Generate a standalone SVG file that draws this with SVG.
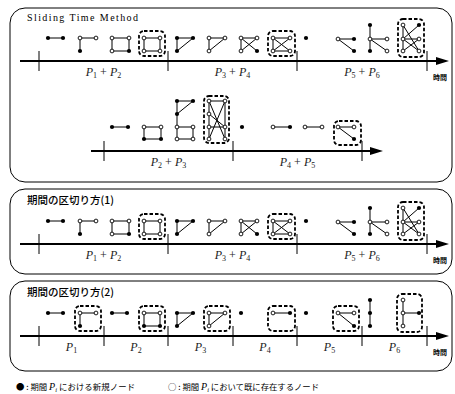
<svg xmlns="http://www.w3.org/2000/svg" xmlns:xlink="http://www.w3.org/1999/xlink" width="455" height="394" viewBox="0 0 455 394">
<style>
.frame{fill:none;stroke:#000;stroke-width:1}
.axis{stroke:#000;stroke-width:2.2}
.tick{stroke:#000;stroke-width:1}
.e{stroke:#000;stroke-width:1;fill:none}
.o{fill:#fff;stroke:#000;stroke-width:0.9}
.f{fill:#000}
.box{fill:none;stroke:#000;stroke-width:1.8;stroke-dasharray:3.5 2}
.ttl{font-family:"Liberation Serif",serif;font-size:10px}
.jt{font-family:"Noto Sans CJK JP","Noto Sans CJK SC",sans-serif;font-size:10.5px;font-weight:500}
.lab{font-family:"Liberation Serif",serif;font-size:12px;fill:#222}
.jk{font-family:"Noto Sans CJK JP",sans-serif;font-size:7px;font-weight:bold}
.leg{font-family:"Noto Sans CJK JP","Liberation Sans",sans-serif;font-size:8.4px}
</style>
<defs>
<g id="toprow">
 <g id="g1"><line class="e" x1="48" y1="38" x2="63" y2="38"/><circle class="f" cx="48" cy="38" r="2.1"/><circle class="f" cx="63" cy="38" r="2.1"/></g>
 <g id="g2"><path class="e" d="M96 38H80V51"/><circle class="o" cx="80" cy="38" r="1.9"/><circle class="o" cx="96" cy="38" r="1.9"/><circle class="f" cx="80" cy="51" r="2.1"/></g>
 <g id="g3"><rect class="e" x="112" y="38" width="17" height="13"/><circle class="o" cx="112" cy="38" r="1.9"/><circle class="o" cx="129" cy="38" r="1.9"/><circle class="o" cx="112" cy="51" r="1.9"/><circle class="f" cx="129" cy="51" r="2.1"/></g>
 <g id="g4"><rect class="box" x="139" y="31" width="26" height="25" rx="5"/><rect class="e" x="144" y="38" width="16" height="13"/><circle class="o" cx="144" cy="38" r="1.9"/><circle class="o" cx="160" cy="38" r="1.9"/><circle class="o" cx="144" cy="51" r="1.9"/><circle class="o" cx="160" cy="51" r="1.9"/></g>
 <g id="g5"><path class="e" d="M177 51V38H193L177 51"/><circle class="f" cx="177" cy="38" r="2.1"/><circle class="f" cx="193" cy="38" r="2.1"/><circle class="f" cx="177" cy="51" r="2.1"/></g>
 <g id="g6"><path class="e" d="M209 51V38H225L209 51"/><circle class="o" cx="209" cy="38" r="1.9"/><circle class="o" cx="225" cy="38" r="1.9"/><circle class="o" cx="209" cy="51" r="1.9"/></g>
 <g id="g7"><path class="e" d="M257 38H241V51M241 38L257 51M257 38L241 51"/><circle class="o" cx="241" cy="38" r="1.9"/><circle class="o" cx="257" cy="38" r="1.9"/><circle class="o" cx="241" cy="51" r="1.9"/><circle class="f" cx="257" cy="51" r="2.1"/></g>
 <g id="g8"><rect class="box" x="268" y="31" width="27" height="25" rx="5"/><path class="e" d="M290 38H273V51H290M273 38L290 51M290 38L273 51"/><circle class="o" cx="273" cy="38" r="1.9"/><circle class="o" cx="290" cy="38" r="1.9"/><circle class="o" cx="273" cy="51" r="1.9"/><circle class="o" cx="290" cy="51" r="1.9"/></g>
 <g id="g9"><circle class="f" cx="306" cy="38" r="2.1"/></g>
 <g id="g10"><path class="e" d="M354 39H338L354 51"/><circle class="o" cx="338" cy="39" r="1.9"/><circle class="f" cx="354" cy="39" r="2.1"/><circle class="f" cx="354" cy="51" r="2.1"/></g>
 <g id="g11"><path class="e" d="M370 25V51M370 39H387M370 39L387 51"/><circle class="f" cx="370" cy="25" r="2.1"/><circle class="o" cx="370" cy="39" r="1.9"/><circle class="f" cx="370" cy="51" r="2.1"/><circle class="o" cx="387" cy="39" r="1.9"/><circle class="o" cx="387" cy="51" r="1.9"/></g>
 <g id="g12"><rect class="box" x="398" y="19" width="26" height="38" rx="5"/><path class="e" d="M403 25V51M403 25L419 51M419 25L403 39H419L403 51M403 39L419 51"/><circle class="o" cx="403" cy="25" r="1.9"/><circle class="f" cx="419" cy="25" r="2.1"/><circle class="o" cx="403" cy="39" r="1.9"/><circle class="o" cx="419" cy="39" r="1.9"/><circle class="o" cx="403" cy="51" r="1.9"/><circle class="o" cx="419" cy="51" r="1.9"/></g>
</g>
<g id="topaxis">
 <line class="axis" x1="20" y1="61" x2="440" y2="61"/>
 <polygon points="436,57 449,61 436,65"/>
 <g class="tick"><line x1="39" y1="51" x2="39" y2="71"/><line x1="168" y1="51" x2="168" y2="71"/><line x1="297" y1="51" x2="297" y2="71"/><line x1="427" y1="51" x2="427" y2="71"/></g>
 <text class="lab" x="103.5" y="76" text-anchor="middle"><tspan font-style="italic">P</tspan><tspan font-size="8" dy="2">1</tspan><tspan dy="-2"> + </tspan><tspan font-style="italic">P</tspan><tspan font-size="8" dy="2">2</tspan></text>
 <text class="lab" x="232.5" y="76" text-anchor="middle"><tspan font-style="italic">P</tspan><tspan font-size="8" dy="2">3</tspan><tspan dy="-2"> + </tspan><tspan font-style="italic">P</tspan><tspan font-size="8" dy="2">4</tspan></text>
 <text class="lab" x="362" y="76" text-anchor="middle"><tspan font-style="italic">P</tspan><tspan font-size="8" dy="2">5</tspan><tspan dy="-2"> + </tspan><tspan font-style="italic">P</tspan><tspan font-size="8" dy="2">6</tspan></text>
 <text class="jk" x="440" y="80" text-anchor="middle">時間</text>
</g>
</defs>

<g id="panel1">
 <rect class="frame" x="10" y="8" width="442" height="174" rx="15"/>
 <text class="ttl" x="27" y="21" textLength="111" lengthAdjust="spacing">Sliding Time Method</text>
 <use xlink:href="#topaxis"/>
 <use xlink:href="#toprow"/>
 <g id="axis1b">
  <line class="axis" x1="91" y1="151" x2="374" y2="151"/>
  <polygon points="370,147 383,151 370,155"/>
  <g class="tick"><line x1="104" y1="141" x2="104" y2="161"/><line x1="233" y1="141" x2="233" y2="161"/><line x1="362" y1="141" x2="362" y2="161"/></g>
  <text class="lab" x="168.5" y="166" text-anchor="middle"><tspan font-style="italic">P</tspan><tspan font-size="8" dy="2">2</tspan><tspan dy="-2"> + </tspan><tspan font-style="italic">P</tspan><tspan font-size="8" dy="2">3</tspan></text>
  <text class="lab" x="297.5" y="166" text-anchor="middle"><tspan font-style="italic">P</tspan><tspan font-size="8" dy="2">4</tspan><tspan dy="-2"> + </tspan><tspan font-style="italic">P</tspan><tspan font-size="8" dy="2">5</tspan></text>
 </g>
 <g id="h1"><line class="e" x1="112" y1="127" x2="128" y2="127"/><circle class="f" cx="112" cy="127" r="2.1"/><circle class="f" cx="128" cy="127" r="2.1"/></g>
 <g id="h2"><rect class="e" x="144" y="127" width="17" height="12"/><circle class="o" cx="144" cy="127" r="1.9"/><circle class="o" cx="161" cy="127" r="1.9"/><circle class="f" cx="144" cy="139" r="2.1"/><circle class="f" cx="161" cy="139" r="2.1"/></g>
 <g id="h3"><path class="e" d="M177 139V101H193L177 114M177 127H193V139H177"/><circle class="f" cx="177" cy="101" r="2.1"/><circle class="f" cx="193" cy="101" r="2.1"/><circle class="f" cx="177" cy="114" r="2.1"/><circle class="o" cx="177" cy="127" r="1.9"/><circle class="o" cx="193" cy="127" r="1.9"/><circle class="o" cx="177" cy="139" r="1.9"/><circle class="o" cx="193" cy="139" r="1.9"/></g>
 <g id="h4"><rect class="box" x="204" y="96" width="25" height="47" rx="5"/><path class="e" d="M209 139V101H225V139M209 101L225 139M225 101L209 139M209 114L225 127M209 127H225"/><circle class="o" cx="209" cy="101" r="1.9"/><circle class="o" cx="225" cy="101" r="1.9"/><circle class="o" cx="209" cy="114" r="1.9"/><circle class="o" cx="209" cy="127" r="1.9"/><circle class="o" cx="225" cy="127" r="1.9"/><circle class="o" cx="209" cy="139" r="1.9"/><circle class="o" cx="225" cy="139" r="1.9"/></g>
 <g id="h5"><circle class="f" cx="242" cy="127" r="2.1"/></g>
 <g id="h6"><line class="e" x1="273" y1="127" x2="290" y2="127"/><circle class="o" cx="273" cy="127" r="1.9"/><circle class="f" cx="290" cy="127" r="2.1"/></g>
 <g id="h7"><line class="e" x1="305" y1="127" x2="322" y2="127"/><circle class="o" cx="305" cy="127" r="1.9"/><circle class="o" cx="322" cy="127" r="1.9"/></g>
 <g id="h8"><rect class="box" x="334" y="121" width="27" height="24" rx="5"/><path class="e" d="M354 127H338L354 139"/><circle class="o" cx="338" cy="127" r="1.9"/><circle class="o" cx="354" cy="127" r="1.9"/><circle class="f" cx="354" cy="139" r="2.1"/></g>
</g>

<g id="panel2">
 <rect class="frame" x="10" y="189" width="442" height="85" rx="15"/>
 <text class="jt" x="27" y="204">期間の区切り方(1)</text>
 <use xlink:href="#topaxis" transform="translate(0,183)"/>
 <use xlink:href="#toprow" transform="translate(0,183)"/>
</g>

<g id="panel3">
 <rect class="frame" x="10" y="281" width="442" height="90" rx="15"/>
 <text class="jt" x="27" y="296">期間の区切り方(2)</text>
 <g id="axis3">
  <line class="axis" x1="20" y1="336" x2="440" y2="336"/>
  <polygon points="436,332 449,336 436,340"/>
  <g class="tick"><line x1="39" y1="326" x2="39" y2="346"/><line x1="104" y1="326" x2="104" y2="346"/><line x1="168" y1="326" x2="168" y2="346"/><line x1="233" y1="326" x2="233" y2="346"/><line x1="297" y1="326" x2="297" y2="346"/><line x1="362" y1="326" x2="362" y2="346"/><line x1="427" y1="326" x2="427" y2="346"/></g>
  <g class="lab" text-anchor="middle">
   <text x="71.5" y="351"><tspan font-style="italic">P</tspan><tspan font-size="8" dy="2">1</tspan></text>
   <text x="136" y="351"><tspan font-style="italic">P</tspan><tspan font-size="8" dy="2">2</tspan></text>
   <text x="200.5" y="351"><tspan font-style="italic">P</tspan><tspan font-size="8" dy="2">3</tspan></text>
   <text x="265" y="351"><tspan font-style="italic">P</tspan><tspan font-size="8" dy="2">4</tspan></text>
   <text x="329.5" y="351"><tspan font-style="italic">P</tspan><tspan font-size="8" dy="2">5</tspan></text>
   <text x="394.5" y="351"><tspan font-style="italic">P</tspan><tspan font-size="8" dy="2">6</tspan></text>
  </g>
  <text class="jk" x="440" y="355" text-anchor="middle">時間</text>
 </g>
 <g id="k1"><line class="e" x1="48" y1="313" x2="63" y2="313"/><circle class="f" cx="48" cy="313" r="2.1"/><circle class="f" cx="63" cy="313" r="2.1"/></g>
 <g id="k2"><rect class="box" x="75" y="306" width="26" height="25" rx="5"/><path class="e" d="M96 313H80V326"/><circle class="o" cx="80" cy="313" r="1.9"/><circle class="o" cx="96" cy="313" r="1.9"/><circle class="f" cx="80" cy="326" r="2.1"/></g>
 <g id="k3"><line class="e" x1="112" y1="313" x2="127" y2="313"/><circle class="f" cx="112" cy="313" r="2.1"/><circle class="f" cx="127" cy="313" r="2.1"/></g>
 <g id="k4"><rect class="box" x="139" y="306" width="26" height="25" rx="5"/><rect class="e" x="144" y="313" width="16" height="13"/><circle class="o" cx="144" cy="313" r="1.9"/><circle class="o" cx="160" cy="313" r="1.9"/><circle class="f" cx="144" cy="326" r="2.1"/><circle class="f" cx="160" cy="326" r="2.1"/></g>
 <g id="k5"><path class="e" d="M177 326V313H193L177 326"/><circle class="f" cx="177" cy="313" r="2.1"/><circle class="f" cx="193" cy="313" r="2.1"/><circle class="f" cx="177" cy="326" r="2.1"/></g>
 <g id="k6"><rect class="box" x="204" y="306" width="26" height="25" rx="5"/><path class="e" d="M209 326V313H225L209 326"/><circle class="o" cx="209" cy="313" r="1.9"/><circle class="o" cx="225" cy="313" r="1.9"/><circle class="o" cx="209" cy="326" r="1.9"/></g>
 <g id="k7"><circle class="f" cx="241" cy="313" r="2.1"/></g>
 <g id="k8"><rect class="box" x="268" y="306" width="27" height="25" rx="5"/><line class="e" x1="273" y1="313" x2="290" y2="313"/><circle class="o" cx="273" cy="313" r="1.9"/><circle class="f" cx="290" cy="313" r="2.1"/></g>
 <g id="k9"><circle class="f" cx="306" cy="313" r="2.1"/></g>
 <g id="k10"><rect class="box" x="333" y="306" width="26" height="25" rx="5"/><path class="e" d="M354 313H338L354 326"/><circle class="o" cx="338" cy="313" r="1.9"/><circle class="o" cx="354" cy="313" r="1.9"/><circle class="f" cx="354" cy="326" r="2.1"/></g>
 <g id="k11"><line class="e" x1="370" y1="300" x2="370" y2="326"/><circle class="f" cx="370" cy="300" r="2.1"/><circle class="f" cx="370" cy="313" r="2.1"/><circle class="f" cx="370" cy="326" r="2.1"/></g>
 <g id="k12"><rect class="box" x="397" y="294" width="25" height="38" rx="5"/><path class="e" d="M403 300V326M403 313H419"/><circle class="o" cx="403" cy="300" r="1.9"/><circle class="o" cx="403" cy="313" r="1.9"/><circle class="o" cx="403" cy="326" r="1.9"/><circle class="f" cx="419" cy="313" r="2.1"/></g>
</g>

<g id="legend" class="leg">
 <text x="16" y="390">● : 期間 <tspan font-family="Liberation Serif" font-style="italic" font-size="10">P</tspan><tspan font-family="Liberation Serif" font-style="italic" font-size="6.5" dy="1.5">i</tspan><tspan dy="-1.5" textLength="78" lengthAdjust="spacing"> における新規ノード</tspan></text>
 <text x="168" y="390">○ : 期間 <tspan font-family="Liberation Serif" font-style="italic" font-size="10">P</tspan><tspan font-family="Liberation Serif" font-style="italic" font-size="6.5" dy="1.5">i</tspan><tspan dy="-1.5" textLength="110" lengthAdjust="spacing"> において既に存在するノード</tspan></text>
</g>
</svg>
